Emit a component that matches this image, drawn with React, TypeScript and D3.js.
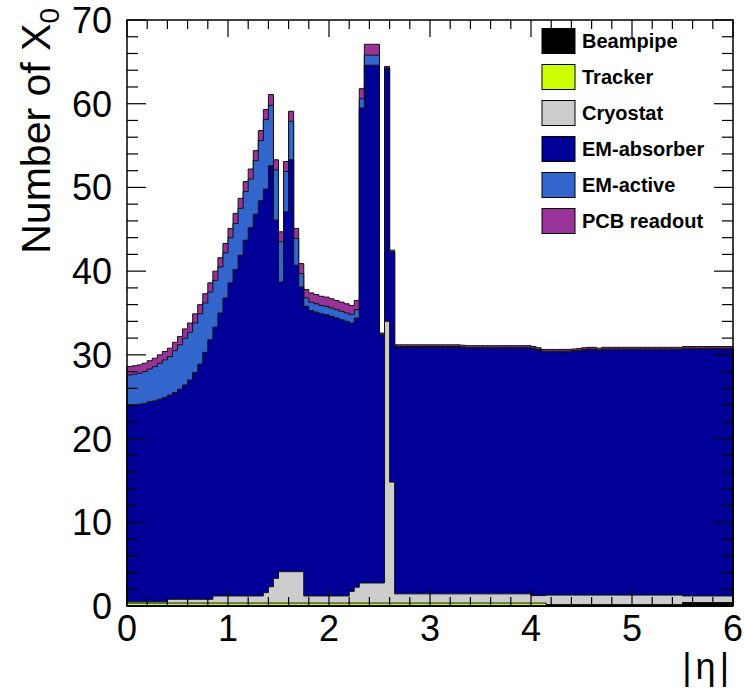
import React, { useEffect, useRef } from "react";
import * as d3 from "d3";

// material budget in units of X0, 120 bins of 0.05 in |eta| (0..6)
const etaMin = 0;
const etaMax = 6;
const nBins = 120;

const beampipe = [
  0.05, 0.05, 0.05, 0.05, 0.05, 0.05, 0.05, 0.05, 0.05, 0.05,
  0.05, 0.05, 0.05, 0.05, 0.05, 0.05, 0.05, 0.05, 0.05, 0.05,
  0.05, 0.05, 0.05, 0.05, 0.05, 0.05, 0.05, 0.05, 0.05, 0.05,
  0.05, 0.05, 0.05, 0.05, 0.05, 0.05, 0.05, 0.05, 0.05, 0.05,
  0.05, 0.05, 0.05, 0.05, 0.05, 0.05, 0.05, 0.05, 0.05, 0.05,
  0.05, 0.05, 0.05, 0.05, 0.05, 0.05, 0.05, 0.05, 0.05, 0.05,
  0.05, 0.05, 0.05, 0.05, 0.05, 0.05, 0.05, 0.05, 0.05, 0.05,
  0.05, 0.05, 0.05, 0.05, 0.05, 0.05, 0.05, 0.05, 0.05, 0.05,
  0.05, 0.05, 0.05, 0.15, 0.15, 0.15, 0.15, 0.15, 0.15, 0.15,
  0.15, 0.15, 0.15, 0.15, 0.15, 0.15, 0.15, 0.15, 0.15, 0.15,
  0.15, 0.15, 0.15, 0.15, 0.15, 0.15, 0.15, 0.15, 0.15, 0.15,
  0.4, 0.4, 0.4, 0.4, 0.4, 0.4, 0.4, 0.4, 0.4, 0.4,
];

const tracker = [
  0.3, 0.3, 0.3, 0.3, 0.3, 0.3, 0.3, 0.3, 0.3, 0.3,
  0.3, 0.3, 0.3, 0.3, 0.3, 0.3, 0.3, 0.3, 0.3, 0.3,
  0.3, 0.3, 0.3, 0.3, 0.3, 0.3, 0.3, 0.3, 0.3, 0.3,
  0.3, 0.3, 0.3, 0.3, 0.3, 0.3, 0.3, 0.3, 0.3, 0.3,
  0.3, 0.3, 0.3, 0.3, 0.3, 0.3, 0.3, 0.3, 0.3, 0.3,
  0.3, 0.3, 0.3, 0.3, 0.3, 0.3, 0.3, 0.3, 0.3, 0.3,
  0.3, 0.3, 0.3, 0.3, 0.3, 0.3, 0.3, 0.3, 0.3, 0.3,
  0.3, 0.3, 0.3, 0.3, 0.3, 0.3, 0.3, 0.3, 0.3, 0.3,
  0.3, 0.3, 0.3, 0, 0, 0, 0, 0, 0, 0,
  0, 0, 0, 0, 0, 0, 0, 0, 0, 0,
  0, 0, 0, 0, 0, 0, 0, 0, 0, 0,
  0, 0, 0, 0, 0, 0, 0, 0, 0, 0,
];

const cryostat = [
  0.15, 0.15, 0.15, 0.15, 0.15, 0.15, 0.15, 0.15, 0.45, 0.45,
  0.45, 0.45, 0.45, 0.45, 0.45, 0.45, 0.45, 0.85, 0.85, 0.85,
  0.85, 0.85, 0.85, 0.85, 0.85, 0.85, 0.85, 1.25, 1.95, 2.95,
  3.75, 3.75, 3.75, 3.75, 3.75, 0.85, 0.85, 0.85, 0.85, 0.85,
  0.85, 0.85, 0.85, 0.85, 1.4, 1.9, 2.4, 2.4, 2.4, 2.4,
  2.4, 33.65, 14.45, 1.1, 1.1, 1.1, 1.1, 1.1, 1.1, 1.1,
  1.1, 1.1, 1.1, 1.1, 1.1, 1.1, 1.1, 1.1, 1.1, 1.1,
  1.1, 1.1, 1.1, 1.1, 1.1, 1.1, 1.1, 1.1, 1.1, 1.1,
  0.9, 0.9, 0.9, 1.15, 1.15, 1.15, 1.15, 1.15, 1.15, 1.15,
  1.15, 1.15, 1.15, 1.15, 1.15, 1.15, 1.15, 1.15, 1.15, 1.15,
  1.15, 1.15, 1.15, 1.15, 1.15, 1.15, 1.15, 1.15, 1.15, 1.15,
  0.8, 0.8, 0.8, 0.8, 0.8, 0.8, 0.8, 0.8, 0.8, 0.8,
];

const emAbsorber = [
  23.5, 23.5, 23.6, 23.7, 23.9, 24.0, 24.2, 24.4, 24.4, 24.7,
  25.1, 25.6, 26.2, 27.1, 28.1, 29.5, 31.0, 32.1, 33.8, 35.6,
  37.4, 39.0, 40.7, 42.5, 44.0, 45.6, 47.2, 48.2, 50.3, 42.8,
  34.6, 43.0, 49.2, 36.6, 34.0, 34.6, 34.1, 33.9, 33.7, 33.6,
  33.4, 33.2, 33.0, 32.8, 32.05, 32.15, 56.75, 61.85, 61.85, 61.85,
  29.55, 30.2, 27.4, 29.45, 29.45, 29.45, 29.45, 29.45, 29.45, 29.45,
  29.45, 29.45, 29.45, 29.45, 29.45, 29.45, 29.4, 29.35, 29.35, 29.35,
  29.35, 29.35, 29.35, 29.35, 29.35, 29.35, 29.35, 29.35, 29.35, 29.35,
  29.45, 29.3, 29.1, 29.05, 29.05, 29.05, 29.05, 29.05, 29.1, 29.15,
  29.25, 29.3, 29.3, 29.2, 29.3, 29.3, 29.3, 29.3, 29.3, 29.3,
  29.3, 29.3, 29.3, 29.3, 29.3, 29.3, 29.3, 29.3, 29.3, 29.3,
  29.5, 29.5, 29.5, 29.5, 29.5, 29.5, 29.5, 29.5, 29.5, 29.5,
];

const emActive = [
  3.6, 3.7, 3.7, 3.8, 3.9, 4.1, 4.3, 4.5, 4.6, 5.0,
  5.3, 5.6, 5.7, 5.9, 6.0, 5.9, 5.7, 5.6, 5.5, 5.4,
  5.4, 5.5, 5.6, 5.8, 5.8, 6.4, 7.2, 8.3, 7.2, 6.0,
  4.8, 4.8, 4.6, 3.2, 1.6, 1.0, 1.0, 1.0, 1.0, 1.0,
  1.0, 1.0, 1.0, 1.0, 1.0, 1.0, 1.1, 1.2, 1.2, 1.2,
  0.1, 0.05, 0.1, 0.1, 0.1, 0.1, 0.1, 0.1, 0.1, 0.1,
  0.1, 0.1, 0.1, 0.1, 0.1, 0.1, 0.1, 0.1, 0.1, 0.1,
  0.1, 0.1, 0.1, 0.1, 0.1, 0.1, 0.1, 0.1, 0.1, 0.1,
  0.1, 0.1, 0.1, 0.1, 0.1, 0.1, 0.1, 0.1, 0.1, 0.1,
  0.1, 0.1, 0.1, 0.1, 0.1, 0.1, 0.1, 0.1, 0.1, 0.1,
  0.1, 0.1, 0.1, 0.1, 0.1, 0.1, 0.1, 0.1, 0.1, 0.1,
  0.1, 0.1, 0.1, 0.1, 0.1, 0.1, 0.1, 0.1, 0.1, 0.1,
];

const pcbReadout = [
  1.0, 1.0, 1.0, 1.0, 1.0, 1.0, 1.0, 1.0, 1.0, 1.0,
  1.0, 1.1, 1.1, 1.1, 1.1, 1.1, 1.1, 1.1, 1.1, 1.1,
  1.1, 1.2, 1.2, 1.2, 1.2, 1.2, 1.2, 1.2, 1.3, 1.2,
  1.2, 1.2, 1.2, 1.2, 1.2, 1.0, 1.1, 1.1, 1.1, 1.1,
  1.1, 1.1, 1.1, 1.1, 1.1, 1.1, 1.2, 1.3, 1.3, 1.3,
  0.2, 0.2, 0.2, 0.2, 0.2, 0.2, 0.2, 0.2, 0.2, 0.2,
  0.2, 0.2, 0.2, 0.2, 0.2, 0.2, 0.2, 0.2, 0.2, 0.2,
  0.2, 0.2, 0.2, 0.2, 0.2, 0.2, 0.2, 0.2, 0.2, 0.2,
  0.2, 0.2, 0.2, 0.2, 0.2, 0.2, 0.2, 0.2, 0.2, 0.2,
  0.2, 0.2, 0.2, 0.2, 0.2, 0.2, 0.2, 0.2, 0.2, 0.2,
  0.2, 0.2, 0.2, 0.2, 0.2, 0.2, 0.2, 0.2, 0.2, 0.2,
  0.2, 0.2, 0.2, 0.2, 0.2, 0.2, 0.2, 0.2, 0.2, 0.2,
];

const layerKeys = ["beampipe", "tracker", "cryostat", "emAbsorber", "emActive", "pcbReadout"];
const layerNames = ["Beampipe", "Tracker", "Cryostat", "EM-absorber", "EM-active", "PCB readout"];
const layerColors = ["#000000", "#ccff00", "#cccccc", "#000099", "#3366cc", "#993399"];

const yTickLabels = [0, 10, 20, 30, 40, 50, 60, 70];
const xTickLabels = [0, 1, 2, 3, 4, 5, 6];

const App = () => {
  const svgRef = useRef(null);

  useEffect(() => {
    const width = 744;
    const height = 688;
    const margin = { top: 20, right: 11, bottom: 82, left: 127 };
    const font = "'Liberation Sans', Arial, Helvetica, sans-serif";

    const svg = d3.select(svgRef.current);
    svg.selectAll("*").remove();
    svg.attr("width", width).attr("height", height);

    const x = d3
      .scaleLinear()
      .domain([etaMin, etaMax])
      .range([margin.left, width - margin.right]);
    const y = d3
      .scaleLinear()
      .domain([0, 70])
      .range([height - margin.bottom, margin.top]);

    const binWidth = (etaMax - etaMin) / nBins;
    const table = d3.range(nBins).map((i) => ({
      beampipe: beampipe[i],
      tracker: tracker[i],
      cryostat: cryostat[i],
      emAbsorber: emAbsorber[i],
      emActive: emActive[i],
      pcbReadout: pcbReadout[i],
    }));

    const series = d3.stack().keys(layerKeys)(table);

    // cumulative step histograms, drawn from the top layer down (ROOT THStack style)
    const area = d3
      .area()
      .x((d) => x(d.eta))
      .y0(y(0))
      .y1((d) => y(d.top))
      .curve(d3.curveStepAfter);

    const g = svg.append("g");
    for (let k = series.length - 1; k >= 0; k--) {
      const pts = d3.range(nBins + 1).map((i) => ({
        eta: etaMin + i * binWidth,
        top: series[k][Math.min(i, nBins - 1)][1],
      }));
      g.append("path")
        .datum(pts)
        .attr("d", area)
        .attr("fill", layerColors[k])
        .attr("stroke", "#111")
        .attr("stroke-width", 1)
        .attr("stroke-linejoin", "miter");
    }

    // frame
    const x0 = x.range()[0];
    const x1 = x.range()[1];
    const y0 = y.range()[0];
    const y1 = y.range()[1];
    svg.append("rect")
      .attr("x", x0)
      .attr("y", y1)
      .attr("width", x1 - x0)
      .attr("height", y0 - y1)
      .attr("fill", "none")
      .attr("stroke", "#000")
      .attr("stroke-width", 1.5);

    // y ticks (left and mirrored right)
    const yMinor = y.ticks(35);
    const yMajorSet = new Set(yTickLabels);
    const ticks = svg.append("g").attr("stroke", "#000").attr("stroke-width", 1.2);
    yMinor.forEach((v) => {
      const len = yMajorSet.has(v) ? 19 : 11;
      ticks.append("line").attr("x1", x0).attr("x2", x0 + len).attr("y1", y(v)).attr("y2", y(v));
      ticks.append("line").attr("x1", x1).attr("x2", x1 - len).attr("y1", y(v)).attr("y2", y(v));
    });

    // x ticks (bottom and mirrored top)
    const xMinor = x.ticks(30);
    xMinor.forEach((v) => {
      const major = Math.abs(v - Math.round(v)) < 1e-6;
      const len = major ? 17 : 9;
      ticks.append("line").attr("x1", x(v)).attr("x2", x(v)).attr("y1", y0).attr("y2", y0 - len);
      ticks.append("line").attr("x1", x(v)).attr("x2", x(v)).attr("y1", y1).attr("y2", y1 + len);
    });

    // tick labels
    svg.append("g")
      .selectAll("text")
      .data(yTickLabels)
      .join("text")
      .attr("x", x0 - 15)
      .attr("y", (d) => y(d))
      .attr("dy", "0.36em")
      .attr("text-anchor", "end")
      .style("font-family", font)
      .style("font-size", "36px")
      .text((d) => d);

    svg.append("g")
      .selectAll("text")
      .data(xTickLabels)
      .join("text")
      .attr("x", (d) => x(d))
      .attr("y", y0 + 35)
      .attr("text-anchor", "middle")
      .style("font-family", font)
      .style("font-size", "36px")
      .text((d) => d);

    // axis titles
    const yTitle = svg.append("text")
      .attr("transform", `translate(50, 8) rotate(-90)`)
      .attr("text-anchor", "end")
      .style("font-family", font)
      .style("font-size", "41px");
    yTitle.append("tspan").text("Number of X");
    yTitle.append("tspan").attr("dy", 9).style("font-size", "28px").text("0");

    svg.append("text")
      .attr("x", x1)
      .attr("y", 679)
      .attr("text-anchor", "end")
      .style("font-family", font)
      .style("font-size", "36px")
      .style("letter-spacing", "4px")
      .text("|η|");

    // legend
    const legend = svg.append("g").attr("transform", "translate(542, 41)");
    layerNames.forEach((name, i) => {
      const row = legend.append("g").attr("transform", `translate(0, ${i * 36})`);
      row.append("rect")
        .attr("x", 0)
        .attr("y", -12.5)
        .attr("width", 33)
        .attr("height", 25)
        .attr("fill", layerColors[i])
        .attr("stroke", "#000")
        .attr("stroke-width", 1);
      row.append("text")
        .attr("x", 40)
        .attr("y", 0)
        .attr("dy", "0.36em")
        .style("font-family", font)
        .style("font-size", "20px")
        .style("font-weight", "bold")
        .text(name);
    });
  }, []);

  return (
    <div style={{ position: "absolute", left: 0, top: 0 }}>
      <svg ref={svgRef} style={{ display: "block" }}></svg>
    </div>
  );
};

export default App;
